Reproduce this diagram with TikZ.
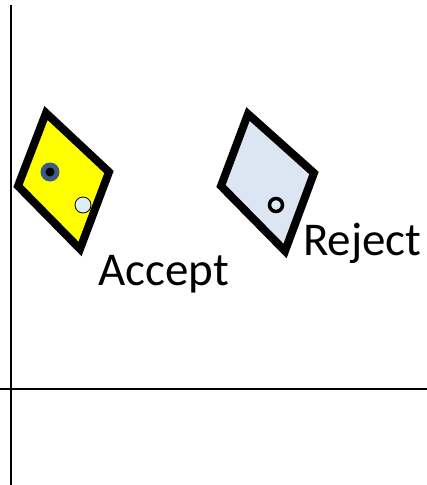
\documentclass[tikz,border=0pt]{standalone}
\usepackage{fontspec}
\setmainfont{Carlito}
\definecolor{accyellow}{HTML}{FFFF00}
\definecolor{rejfill}{HTML}{DCE6F2}
\definecolor{dotblue}{HTML}{3B5A85}
\definecolor{lightdot}{HTML}{DAEEF3}
\tikzset{
  card/.style={line width=8pt, line join=miter, draw=black},
  axis/.style={line width=2pt, draw=black},
  lbl/.style={inner sep=0pt, anchor=base west, font=\fontsize{47}{50}\selectfont},
}
\begin{document}
\begin{tikzpicture}[x=1pt,y=-1pt]
\useasboundingbox (0,0) rectangle (427,485);
\fill[white] (0,0) rectangle (427,485);
% axes
\draw[axis] (11,5) -- (11,485);
\draw[axis] (0,389) -- (427,389);
% accept card
\draw[card, fill=accyellow] (46,113) -- (109,172) -- (80,249) -- (18,186) -- cycle;
\fill[dotblue] (50,172) circle (9.5);
\fill[black] (50,172) circle (4.5);
\draw[fill=lightdot, line width=0.8pt] (83,205) circle (8);
% reject card
\draw[card, fill=rejfill] (248,114) -- (314,173) -- (285,251) -- (221,186) -- cycle;
\draw[fill=lightdot, line width=3.5pt] (276,205) circle (6.5);
% labels
\node[lbl] (accept) at (98,285) {Accept};
\node[lbl] (reject) at (303,255) {Reject};
\end{tikzpicture}
\end{document}
